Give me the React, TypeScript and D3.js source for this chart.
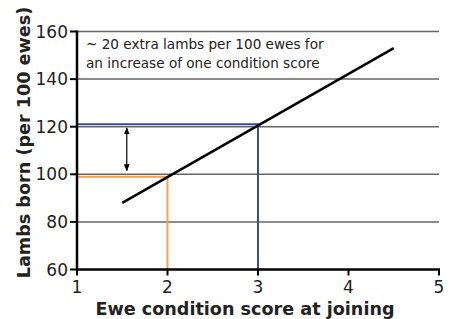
import React from 'react'
import * as d3 from 'd3'

// data
const xTicks = [1, 2, 3, 4, 5]
const yTicks = [60, 80, 100, 120, 140, 160]
const gridValues = [80, 100, 120, 140, 160]
const trendLine: [number, number][] = [[1.5, 88], [4.5, 153]]
const lowScore = { x: 2, y: 99 }
const highScore = { x: 3, y: 121 }
const arrowAt = { x: 1.55, from: 101.5, to: 119.5 }
const noteLines = ['~ 20 extra lambs per 100 ewes for', 'an increase of one condition score']

const W = 453
const H = 319
const margin = { top: 31.5, right: 14, bottom: 49.5, left: 77 }

const font = '"DejaVu Sans", Verdana, sans-serif'

export default function App() {
  const x = d3.scaleLinear().domain([1, 5]).range([margin.left, W - margin.right])
  const y = d3.scaleLinear().domain([60, 160]).range([H - margin.bottom, margin.top])
  const line = d3.line<[number, number]>().x(d => x(d[0])).y(d => y(d[1]))

  return (
    <svg width={W} height={H} style={{ position: 'absolute', left: 0, top: 0, background: '#fff' }}>
      <defs>
        <marker id="ah" viewBox="0 0 10 10" refX="9" refY="5" markerWidth="6" markerHeight="6" orient="auto-start-reverse">
          <path d="M0,1 L10,5 L0,9 z" fill="#000" />
        </marker>
      </defs>

      {/* grid */}
      {gridValues.map(v => (
        <line key={v} x1={x(1)} x2={x(5)} y1={y(v)} y2={y(v)} stroke="#666" strokeWidth={1.5} />
      ))}

      {/* highlight lines */}
      <path d={`M${x(1)},${y(lowScore.y)} H${x(lowScore.x)} V${y(60)}`} fill="none" stroke="#f5a04a" strokeWidth={2} />
      <path d={`M${x(1)},${y(highScore.y)} H${x(highScore.x)} V${y(60)}`} fill="none" stroke="#3a4a9c" strokeWidth={2} />

      {/* trend */}
      <path d={line(trendLine) ?? ''} fill="none" stroke="#000" strokeWidth={2.5} />

      {/* double arrow */}
      <line x1={x(arrowAt.x)} x2={x(arrowAt.x)} y1={y(arrowAt.from)} y2={y(arrowAt.to)} stroke="#000" strokeWidth={1.2}
        markerStart="url(#ah)" markerEnd="url(#ah)" />

      {/* axes */}
      <line x1={x(1)} x2={x(1)} y1={y(160) - 1} y2={y(60) + 1} stroke="#000" strokeWidth={2.5} />
      <line x1={x(1) - 1} x2={x(5) + 1} y1={y(60)} y2={y(60)} stroke="#000" strokeWidth={2.5} />

      {yTicks.map(v => (
        <g key={v}>
          <line x1={x(1) - 7} x2={x(1)} y1={y(v)} y2={y(v)} stroke="#000" strokeWidth={2} />
          <text x={x(1) - 9} y={y(v) + 6} textAnchor="end" fontFamily={font} fontSize={17} fill="#222">{v}</text>
        </g>
      ))}
      {xTicks.map(v => (
        <g key={v}>
          <line x1={x(v)} x2={x(v)} y1={y(60)} y2={y(60) + 6} stroke="#000" strokeWidth={2} />
          <text x={x(v)} y={y(60) + 23} textAnchor="middle" fontFamily={font} fontSize={17} fill="#222">{v}</text>
        </g>
      ))}

      {/* titles */}
      <text x={245} y={315} textAnchor="middle" fontFamily={font} fontSize={17.6} fontWeight="bold" fill="#222">
        Ewe condition score at joining
      </text>
      <text transform={`translate(30,142.5) rotate(-90)`} textAnchor="middle" fontFamily={font} fontSize={17.6} fontWeight="bold" fill="#222">
        Lambs born (per 100 ewes)
      </text>

      {/* note */}
      {noteLines.map((t, i) => (
        <text key={i} x={86} y={49 + i * 19} fontFamily={font} fontSize={13.6} fill="#222">{t}</text>
      ))}
    </svg>
  )
}
